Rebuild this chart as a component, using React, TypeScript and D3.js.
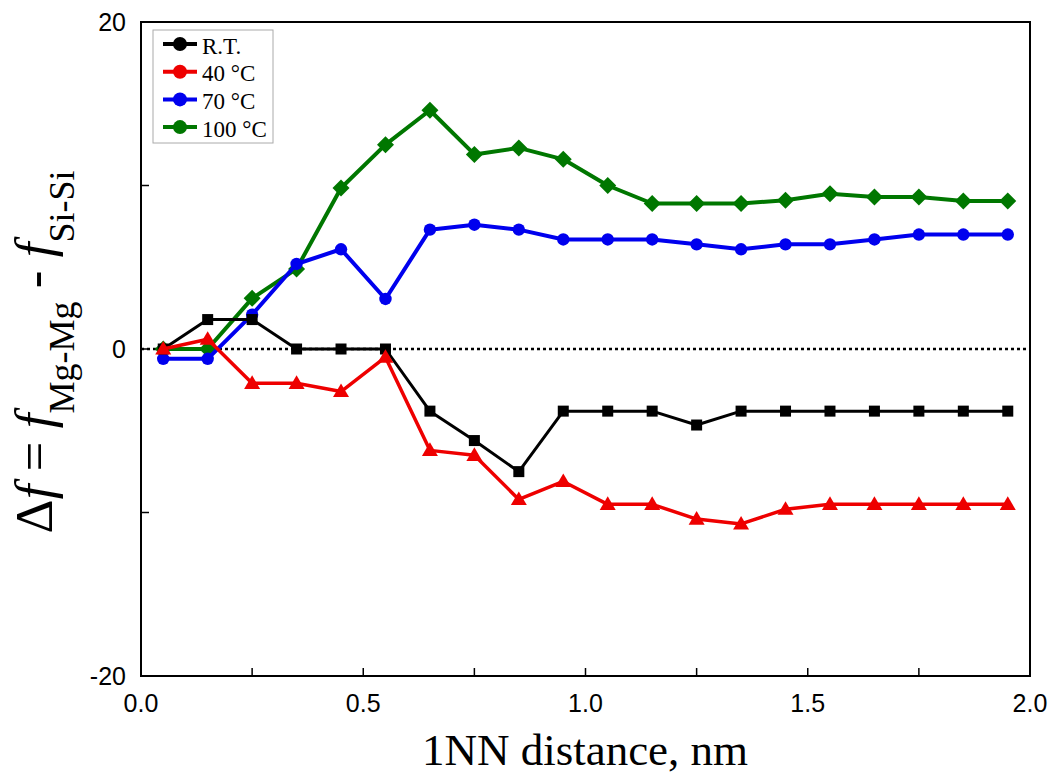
import React from "react";
import * as d3 from "d3";

const distances = [0.05,0.15,0.25,0.35,0.45,0.55,0.65,0.75,0.85,0.95,1.05,1.15,1.25,1.35,1.45,1.55,1.65,1.75,1.85,1.95];
const rtValues = [0,1.8,1.8,0,0,0,-3.8,-5.6,-7.5,-3.8,-3.8,-3.8,-4.65,-3.8,-3.8,-3.8,-3.8,-3.8,-3.8,-3.8];
const c40Values = [0,0.6,-2.1,-2.1,-2.6,-0.5,-6.2,-6.5,-9.2,-8.1,-9.5,-9.5,-10.4,-10.7,-9.8,-9.5,-9.5,-9.5,-9.5,-9.5];
const c70Values = [-0.6,-0.6,2.1,5.2,6.1,3.06,7.3,7.6,7.3,6.7,6.7,6.7,6.4,6.1,6.4,6.4,6.7,7.0,7.0,7.0];
const c100Values = [0,0,3.1,4.9,9.85,12.5,14.6,11.9,12.3,11.6,10.0,8.9,8.9,8.9,9.1,9.5,9.3,9.3,9.05,9.05];
const seriesNames = ["R.T.", "40 \u00b0C", "70 \u00b0C", "100 \u00b0C"];
const xTickLabels = [0, 0.5, 1.0, 1.5, 2.0];
const xMinorTicks = [0.25, 0.75, 1.25, 1.75];
const yTickLabels = [-20, 0, 20];
const yMinorTicks = [-10, 10];

const colors = ["#000000", "#ee0000", "#0000ee", "#007700"];
const markers = ["square", "triangle", "circle", "diamond"];
const lineWidths = [3, 3.5, 4, 4];

const L = 141, R = 1030, T = 22, B = 676;
const serif = "Liberation Serif, Times New Roman, serif";
const sans = "Liberation Sans, Arial, sans-serif";

function Marker({ type, x, y, color }: { type: string; x: number; y: number; color: string }) {
  if (type === "square") return <rect x={x - 5.5} y={y - 5.5} width={11} height={11} fill={color} />;
  if (type === "triangle") {
    const s = 8;
    return <path d={`M${x},${y - s} L${x + s},${y + s * 0.7} L${x - s},${y + s * 0.7} Z`} fill={color} />;
  }
  if (type === "diamond") {
    const s = 8.5;
    return <path d={`M${x},${y - s} L${x + s},${y} L${x},${y + s} L${x - s},${y} Z`} fill={color} />;
  }
  return <circle cx={x} cy={y} r={6.2} fill={color} />;
}

export default function App() {
  const x = d3.scaleLinear().domain([0, 2]).range([L, R]);
  const y = d3.scaleLinear().domain([-20, 20]).range([B, T]);
  const all = [rtValues, c40Values, c70Values, c100Values];
  const line = d3.line<number>().x((_, i) => x(distances[i])).y((d) => y(d));
  const drawOrder = [3, 2, 0, 1];
  return (
    <svg width={1051} height={778} style={{ position: "absolute", left: 0, top: 0, background: "#fff" }}>
      <rect x={0} y={0} width={1051} height={778} fill="#fff" />
      <line x1={L} x2={R} y1={y(0)} y2={y(0)} stroke="#000" strokeWidth={2.5} strokeDasharray="3,3" />
      {drawOrder.map((si) => (
        <g key={si}>
          <path d={line(all[si]) || ""} fill="none" stroke={colors[si]} strokeWidth={lineWidths[si]} strokeLinejoin="round" />
          {all[si].map((v, i) => (
            <Marker key={i} type={markers[si]} x={x(distances[i])} y={y(v)} color={colors[si]} />
          ))}
        </g>
      ))}
      <rect x={L} y={T} width={R - L} height={B - T} fill="none" stroke="#000" strokeWidth={2} />
      {[...xTickLabels, ...xMinorTicks].map((t) => (
        <line key={"xt" + t} x1={x(t)} x2={x(t)} y1={B} y2={B - 8} stroke="#000" strokeWidth={1.5} />
      ))}
      {[...yTickLabels, ...yMinorTicks].map((t) => (
        <line key={"yt" + t} x1={L} x2={L + 8} y1={y(t)} y2={y(t)} stroke="#000" strokeWidth={1.5} />
      ))}
      {xTickLabels.map((t) => (
        <text key={"xl" + t} x={x(t)} y={B + 36} textAnchor="middle" fontFamily={sans} fontSize={25}>
          {t.toFixed(1)}
        </text>
      ))}
      {yTickLabels.map((t) => (
        <text key={"yl" + t} x={126} y={y(t) + 9} textAnchor="end" fontFamily={sans} fontSize={25}>
          {t}
        </text>
      ))}
      <text x={585} y={765} textAnchor="middle" fontFamily={serif} fontSize={45}>
        1NN distance, nm
      </text>
      <text transform={`translate(52, 352) rotate(-90)`} textAnchor="middle" fontFamily={serif} fontSize={53}>
        <tspan>{"\u0394"}</tspan>
        <tspan fontStyle="italic">f</tspan>
        <tspan>{" = "}</tspan>
        <tspan fontStyle="italic">f</tspan>
        <tspan dy={22} fontSize={36}>Mg-Mg</tspan>
        <tspan dy={-22}>{" - "}</tspan>
        <tspan fontStyle="italic">f</tspan>
        <tspan dy={22} fontSize={36}>Si-Si</tspan>
      </text>
      <rect x={153} y={30} width={120} height={113} fill="#fff" stroke="#aaa" strokeWidth={1} />
      {seriesNames.map((n, i) => {
        const yy = 44 + i * 27.7;
        return (
          <g key={n}>
            <line x1={163} x2={197} y1={yy} y2={yy} stroke={colors[i]} strokeWidth={4} />
            <circle cx={180} cy={yy} r={7} fill={colors[i]} />
            <text x={202} y={yy + 9.5} fontFamily={serif} fontSize={23}>
              {n}
            </text>
          </g>
        );
      })}
    </svg>
  );
}
